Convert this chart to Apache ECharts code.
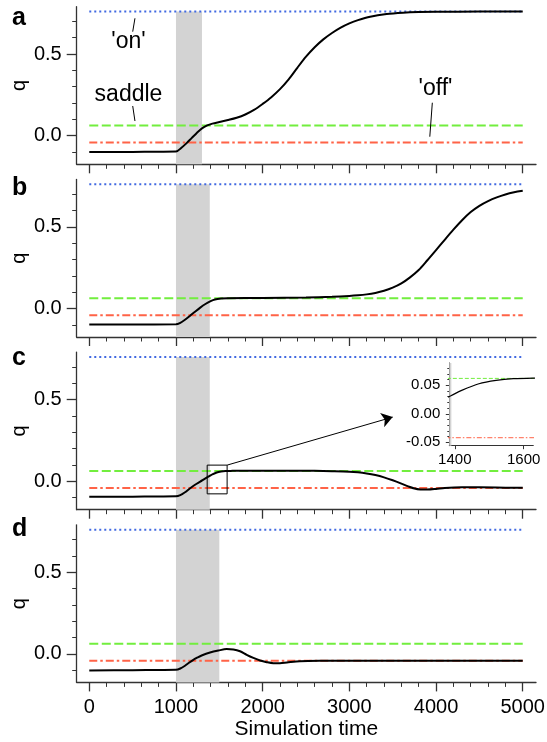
<!DOCTYPE html>
<html><head><meta charset="utf-8">
<script src="https://cdn.jsdelivr.net/npm/echarts@6/dist/echarts.min.js"></script>
<style>html,body{margin:0;padding:0;background:#fff}#c{width:547px;height:742px}</style>
</head><body><div id="c"></div><script>
// ---------- data ----------
const panelLetters = ['a', 'b', 'c', 'd'];
const timeA = [0, 500, 1000, 1060, 1120, 1180, 1240, 1300, 1360, 1420, 1500, 1600, 1700, 1800, 1900, 2000, 2100, 2200, 2300, 2400, 2500, 2600, 2700, 2800, 2900, 3000, 3100, 3240, 3430, 3620, 3800, 4000, 4500, 5000];
const qA    = [-0.100, -0.099, -0.097, -0.075, -0.047, -0.015, 0.017, 0.045, 0.063, 0.074, 0.084, 0.096, 0.110, 0.130, 0.158, 0.195, 0.236, 0.285, 0.345, 0.416, 0.484, 0.542, 0.590, 0.629, 0.662, 0.688, 0.708, 0.729, 0.745, 0.753, 0.757, 0.759, 0.760, 0.760];
const timeB = [0, 500, 1000, 1050, 1100, 1160, 1220, 1280, 1340, 1400, 1450, 1520, 1600, 2000, 2500, 2800, 3000, 3100, 3200, 3300, 3400, 3500, 3600, 3700, 3800, 3900, 4000, 4100, 4200, 4300, 4400, 4500, 4600, 4700, 4800, 4900, 5000];
const qB    = [-0.098, -0.098, -0.097, -0.088, -0.071, -0.046, -0.020, 0.005, 0.027, 0.045, 0.055, 0.060, 0.062, 0.064, 0.067, 0.071, 0.076, 0.080, 0.086, 0.095, 0.108, 0.127, 0.153, 0.190, 0.235, 0.295, 0.357, 0.420, 0.482, 0.540, 0.590, 0.628, 0.657, 0.680, 0.698, 0.711, 0.720];
const timeC = [0, 500, 1000, 1050, 1100, 1160, 1220, 1280, 1340, 1390, 1420, 1470, 1520, 1570, 1630, 1800, 2200, 2600, 2800, 3000, 3100, 3200, 3300, 3400, 3500, 3600, 3680, 3750, 3820, 3900, 4000, 4100, 4300, 4500, 4800, 5000];
const qC    = [-0.096, -0.095, -0.093, -0.086, -0.070, -0.045, -0.022, -0.003, 0.017, 0.032, 0.041, 0.0526, 0.0585, 0.0615, 0.0626, 0.064, 0.064, 0.063, 0.061, 0.058, 0.054, 0.047, 0.037, 0.023, 0.005, -0.015, -0.032, -0.045, -0.051, -0.052, -0.048, -0.042, -0.038, -0.038, -0.040, -0.041];
const timeD = [0, 500, 1000, 1050, 1104, 1150, 1200, 1250, 1296, 1393, 1489, 1585, 1662, 1739, 1816, 1893, 1970, 2046, 2123, 2200, 2280, 2430, 2660, 3000, 4000, 5000];
const qD    = [-0.102, -0.100, -0.098, -0.090, -0.073, -0.055, -0.037, -0.022, -0.010, 0.008, 0.020, 0.029, 0.027, 0.016, -0.006, -0.025, -0.041, -0.051, -0.057, -0.057, -0.053, -0.046, -0.043, -0.042, -0.042, -0.043];
const panelTimes = [timeA, timeB, timeC, timeD];
const panelQ = [qA, qB, qC, qD];

const shadeStart = 1000;
const shadeEnd = [1300, 1390, 1390, 1500];
const onLevel = 0.76;
const saddleLevel = 0.062;
const offLevel = -0.042;
const levelSpan = [0, 5000];

const xTicks = [0, 1000, 2000, 3000, 4000, 5000];
const xMinorTicks = [200, 400, 600, 800, 1200, 1400, 1600, 1800, 2200, 2400, 2600, 2800, 3200, 3400, 3600, 3800, 4200, 4400, 4600, 4800];
const yTicks = [0, 0.5];
const yMinorTicks = [-0.1, 0.1, 0.2, 0.3, 0.4, 0.6, 0.7];
const xRange = [-145, 5153];
const qRange = [-0.175, 0.79];

// annotations (panel a)
const annoNames = ["'on'", 'saddle', "'off'"];
const annoTime = [458, 458, 4000];
const annoQ = [0.574, 0.249, 0.286];
const leaderFrom = [[527, 0.719], [501, 0.182], [3957, 0.202]];
const leaderTo   = [[501, 0.637], [527, 0.090], [3928, -0.006]];

// zoom box and inset (panel c)
const zoomBoxTime = [1360, 1590];
const zoomBoxQ = [-0.078, 0.098];
const arrowTip = [3500, 0.392];
const insetTime = [1384, 1628];
const insetQ = [-0.056, 0.089];
const insetXTicks = [1400, 1600];
const insetYTicks = [-0.05, 0, 0.05];
const insetYMinorTicks = [-0.04, -0.03, -0.02, -0.01, 0.01, 0.02, 0.03, 0.04, 0.06, 0.07, 0.08];

// ---------- styles ----------
const FONT = "'Liberation Sans', Arial, Helvetica, sans-serif";
const AX = '#333';
const BLUE = '#4169e1', GREEN = '#72ee3e', RED = '#ff6347', GRAY = '#d3d3d3';
const L = 76.7, W = 459.3, T0 = 6.7, STEP = 172.7, H = 157.6;

const grids = [], xAxes = [], yAxes = [], series = [], graphics = [];
const zip = (a, b) => a.map((v, k) => [v, b[k]]);
const plain = v => String(v);

for (let i = 0; i < 4; i++) {
  grids.push({ left: L, top: T0 + STEP * i, width: W, height: H, containLabel: false, outerBoundsMode: 'none' });
  const last = i === 3;
  xAxes.push({
    type: 'value', gridIndex: i, min: xRange[0], max: xRange[1], position: 'bottom',
    axisLine: { show: true, onZero: false, lineStyle: { color: AX, width: 1.3 } },
    axisTick: { show: true, customValues: xTicks, length: 9, lineStyle: { color: AX, width: 1.3 } },
    axisLabel: { show: last, customValues: xTicks, margin: 15, fontSize: 20, color: '#000', fontFamily: FONT, formatter: plain },
    splitLine: { show: false },
    name: last ? 'Simulation time' : '', nameLocation: 'middle', nameGap: 36, nameMoveOverlap: false,
    nameTextStyle: { fontSize: 21, color: '#000', fontFamily: FONT }
  });
  xAxes.push({
    type: 'value', gridIndex: i, min: xRange[0], max: xRange[1], position: 'bottom',
    axisLine: { show: false, onZero: false },
    axisTick: { show: true, customValues: xMinorTicks, length: 4.5, lineStyle: { color: AX, width: 1 } },
    axisLabel: { show: false }, splitLine: { show: false }
  });
  yAxes.push({
    type: 'value', gridIndex: i, min: qRange[0], max: qRange[1], position: 'left',
    axisLine: { show: true, onZero: false, lineStyle: { color: AX, width: 1.3 } },
    axisTick: { show: true, customValues: yTicks, length: 10, lineStyle: { color: AX, width: 1.3 } },
    axisLabel: { show: true, customValues: yTicks, margin: 15, fontSize: 20, color: '#000', fontFamily: FONT,
      formatter: v => Number(v).toFixed(1) },
    splitLine: { show: false },
    name: 'q', nameLocation: 'middle', nameGap: 47, nameMoveOverlap: false,
    nameTextStyle: { fontSize: 20, color: '#000', fontFamily: FONT }
  });
  yAxes.push({
    type: 'value', gridIndex: i, min: qRange[0], max: qRange[1], position: 'left',
    axisLine: { show: false, onZero: false },
    axisTick: { show: true, customValues: yMinorTicks, length: 4.5, lineStyle: { color: AX, width: 1 } },
    axisLabel: { show: false }, splitLine: { show: false }
  });
  const xi = 2 * i, yi = 2 * i;
  // shaded stimulus window
  series.push({
    type: 'line', xAxisIndex: xi, yAxisIndex: yi, data: [[shadeStart, qRange[0]]], symbol: 'none',
    lineStyle: { opacity: 0 }, z: 1, silent: true,
    markArea: { silent: true, itemStyle: { color: GRAY }, data: [[{ coord: [shadeStart, qRange[0]] }, { coord: [shadeEnd[i], onLevel] }]] }
  });
  series.push({ type: 'line', xAxisIndex: xi, yAxisIndex: yi, symbol: 'none', z: 2, silent: true,
    data: levelSpan.map(t => [t, onLevel]), lineStyle: { color: BLUE, width: 2, type: [2, 3] } });
  series.push({ type: 'line', xAxisIndex: xi, yAxisIndex: yi, symbol: 'none', z: 2, silent: true,
    data: levelSpan.map(t => [t, saddleLevel]), lineStyle: { color: GREEN, width: 2, type: [9, 3.5] } });
  series.push({ type: 'line', xAxisIndex: xi, yAxisIndex: yi, symbol: 'none', z: 2, silent: true,
    data: levelSpan.map(t => [t, offLevel]), lineStyle: { color: RED, width: 2, type: [8, 3, 2.5, 3] } });
  series.push({ type: 'line', xAxisIndex: xi, yAxisIndex: yi, symbol: 'none', z: 4, silent: true,
    smooth: 0.3,
    data: zip(panelTimes[i], panelQ[i]), lineStyle: { color: '#000', width: 2 } });
}

// annotations in panel a
series.push({
  type: 'scatter', xAxisIndex: 0, yAxisIndex: 0, symbolSize: 1, z: 6, silent: true,
  itemStyle: { color: 'rgba(255,255,255,0)', opacity: 1 },
  data: annoNames.map((n, k) => ({ name: n, value: [annoTime[k], annoQ[k]] })),
  label: { show: true, position: [0, 0], align: 'center', verticalAlign: 'middle', formatter: '{b}',
    fontSize: 23, color: '#000', fontFamily: FONT, opacity: 1 }
});
series.push({
  type: 'lines', coordinateSystem: 'cartesian2d', xAxisIndex: 0, yAxisIndex: 0, z: 6, silent: true,
  symbol: 'none', lineStyle: { color: '#000', width: 1, opacity: 1 },
  data: leaderFrom.map((p, k) => ({ coords: [p, leaderTo[k]] }))
});

// zoom box + arrow in panel c
series.push({
  type: 'line', xAxisIndex: 4, yAxisIndex: 4, data: [[zoomBoxTime[0], zoomBoxQ[0]]], symbol: 'none',
  lineStyle: { opacity: 0 }, z: 6, silent: true,
  markArea: { silent: true, z: 6, itemStyle: { color: 'rgba(0,0,0,0)', borderColor: '#000', borderWidth: 1 },
    data: [[{ coord: [zoomBoxTime[0], zoomBoxQ[0]] }, { coord: [zoomBoxTime[1], zoomBoxQ[1]] }]] }
});
series.push({
  type: 'lines', coordinateSystem: 'cartesian2d', xAxisIndex: 4, yAxisIndex: 4, z: 6, silent: true,
  symbol: ['none', 'arrow'], symbolSize: 11,
  lineStyle: { color: '#000', width: 1, opacity: 1 }, itemStyle: { color: '#000' },
  data: [{ coords: [[zoomBoxTime[1], zoomBoxQ[1]], arrowTip] }]
});

// inset
grids.push({ left: 449.3, top: 363, width: 84, height: 82.7, containLabel: false, outerBoundsMode: 'none' });
xAxes.push({
  type: 'value', gridIndex: 4, min: insetTime[0], max: insetTime[1], position: 'bottom',
  axisLine: { show: true, onZero: false, lineStyle: { color: AX, width: 1 } },
  axisTick: { show: true, customValues: insetXTicks, length: 3.5, lineStyle: { color: AX, width: 1 } },
  axisLabel: { show: true, customValues: insetXTicks, margin: 7, fontSize: 15, color: '#000', fontFamily: FONT, formatter: plain },
  splitLine: { show: false }
});
yAxes.push({
  type: 'value', gridIndex: 4, min: insetQ[0], max: insetQ[1], position: 'left',
  axisLine: { show: true, onZero: false, lineStyle: { color: AX, width: 1 } },
  axisTick: { show: true, customValues: insetYTicks, length: 3.5, lineStyle: { color: AX, width: 1 } },
  axisLabel: { show: true, customValues: insetYTicks, margin: 9, fontSize: 15, color: '#000', fontFamily: FONT,
    formatter: v => Number(v).toFixed(2) },
  splitLine: { show: false }
});
yAxes.push({
  type: 'value', gridIndex: 4, min: insetQ[0], max: insetQ[1], position: 'left',
  axisLine: { show: false, onZero: false },
  axisTick: { show: true, customValues: insetYMinorTicks, length: 2, lineStyle: { color: AX, width: 1 } },
  axisLabel: { show: false }, splitLine: { show: false }
});
series.push({
  type: 'line', xAxisIndex: 8, yAxisIndex: 8, data: [[insetTime[0], insetQ[0]]], symbol: 'none',
  lineStyle: { opacity: 0 }, z: 1, silent: true,
  markArea: { silent: true, itemStyle: { color: GRAY },
    data: [[{ coord: [Math.max(shadeStart, insetTime[0]), insetQ[0]] }, { coord: [shadeEnd[2], insetQ[1]] }]] }
});
series.push({ type: 'line', xAxisIndex: 8, yAxisIndex: 8, symbol: 'none', z: 2, silent: true,
  data: levelSpan.map(t => [t, saddleLevel]), lineStyle: { color: GREEN, width: 1, type: [4, 2] } });
series.push({ type: 'line', xAxisIndex: 8, yAxisIndex: 8, symbol: 'none', z: 2, silent: true,
  data: levelSpan.map(t => [t, offLevel]), lineStyle: { color: RED, width: 1, type: [5, 2, 1.5, 2] } });
series.push({ type: 'line', xAxisIndex: 8, yAxisIndex: 8, symbol: 'none', z: 4, silent: true,
  smooth: 0.3,
  data: zip(timeC, qC), lineStyle: { color: '#000', width: 1.2 } });

// panel letters
const letterBaseline = [27, 197, 367, 538];
panelLetters.forEach((t, k) => {
  graphics.push({ type: 'text', x: 12, y: letterBaseline[k] - 9, silent: true,
    style: { text: t, font: 'bold 25px ' + FONT, fill: '#000', verticalAlign: 'middle', align: 'left' } });
});

const chart = echarts.init(document.getElementById('c'), null, { renderer: 'canvas' });
chart.setOption({
  animation: false,
  backgroundColor: '#fff',
  grid: grids, xAxis: xAxes, yAxis: yAxes, series: series, graphic: graphics
});
</script></body></html>
